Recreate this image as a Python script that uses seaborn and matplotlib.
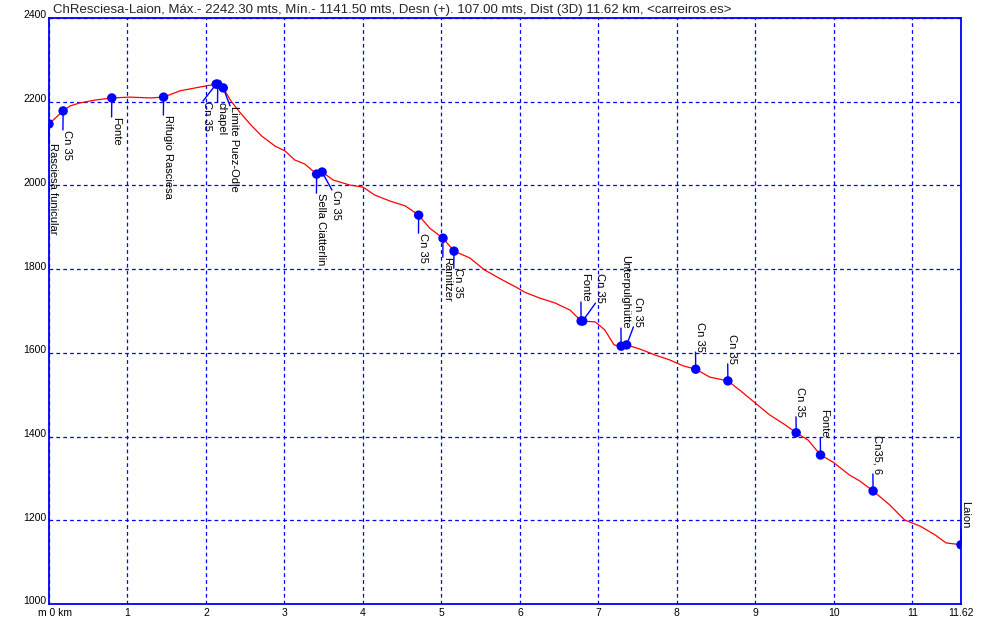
import numpy as np
import matplotlib
matplotlib.use("Agg")
import matplotlib.pyplot as plt
import matplotlib.transforms as mtransforms
import seaborn as sns

# elevation profile (km, m)
dist_km = [0.0, 0.18, 0.27, 0.39, 0.59, 0.80, 1.03, 1.29, 1.46, 1.67, 1.92, 2.13, 2.15, 2.22,
           2.31, 2.43, 2.56, 2.71, 2.88, 3.01, 3.13, 3.26, 3.41, 3.48, 3.62, 3.83, 4.0, 4.15,
           4.34, 4.54, 4.71, 4.85, 5.02, 5.16, 5.36, 5.55, 5.75, 5.97, 6.06, 6.25, 6.45, 6.64,
           6.78, 6.96, 7.08, 7.20, 7.29, 7.36, 7.53, 7.72, 7.91, 8.08, 8.24, 8.42, 8.65, 8.80,
           9.0, 9.18, 9.38, 9.52, 9.67, 9.83, 9.99, 10.2, 10.33, 10.50, 10.71, 10.90, 11.10,
           11.29, 11.43, 11.62]
elev_m = [2147, 2178, 2190, 2197, 2204, 2209, 2211, 2209, 2211, 2226, 2235, 2242, 2242, 2233,
          2204, 2175, 2147, 2118, 2094, 2082, 2061, 2051, 2027, 2032, 2013, 2001, 1996, 1977,
          1963, 1951, 1929, 1898, 1874, 1843, 1827, 1798, 1777, 1755, 1745, 1731, 1719, 1702,
          1676, 1674, 1655, 1619, 1616, 1619, 1609, 1595, 1583, 1569, 1561, 1542, 1533, 1511,
          1480, 1452, 1428, 1409, 1392, 1356, 1339, 1308, 1294, 1270, 1237, 1201, 1186,
          1165, 1146, 1141.5]

# waypoints
wp_names = ["Rasciesa funicular", "Cn 35", "Fonte", "Rifugio Rasciesa", "Cn 35", "chapel",
            "Limite Puez-Odle", "Sella Ciatterlin", "Cn 35", "Cn 35", "Ramitzer", "Cn 35",
            "Fonte", "Cn 35", "Unterpulghütte", "Cn 35", "Cn 35", "Cn 35", "Cn 35", "Fonte",
            "Cn35, 6", "Laion"]
wp_km = [0.0, 0.18, 0.80, 1.46, 2.13, 2.15, 2.22, 3.41, 3.48, 4.71, 5.02, 5.16,
         6.78, 6.80, 7.29, 7.36, 8.24, 8.65, 9.52, 9.83, 10.50, 11.62]
wp_m = [2147, 2178, 2209, 2211, 2242, 2242, 2233, 2027, 2032, 1929, 1874, 1843,
        1676, 1676, 1616, 1619, 1561, 1533, 1409, 1356, 1270, 1141.5]

# label offsets in pixels (layout only)
wp_offsets = [(0, -19), (0, -19), (0, -19), (0, -18), (-13, -17), (0, -18), (7, -18),
              (0, -19), (10, -18), (0, -18), (0, -19), (0, -17),
              (0, 19), (13, 18), (0, 18), (7, 18), (0, 17), (0, 17), (0, 16), (0, 17),
              (0, 17), (0, 16)]

y_ticks = [1000, 1200, 1400, 1600, 1800, 2000, 2200, 2400]
x_ticks = [0, 1, 2, 3, 4, 5, 6, 7, 8, 9, 10, 11, 11.62]
x_labels = ["m 0 km", "1", "2", "3", "4", "5", "6", "7", "8", "9", "10", "11", "11.62"]

title = ("ChResciesa-Laion, Máx.- 2242.30 mts, Mín.- 1141.50 mts, Desn (+). 107.00 mts, "
         "Dist (3D) 11.62 km, <carreiros.es>")

sns.set_style("white")
plt.rcParams["font.family"] = ["Liberation Sans", "DejaVu Sans"]

fig = plt.figure(figsize=(9.85, 6.35), dpi=100)
ax = fig.add_axes([49 / 985, 31 / 635, 912 / 985, 586 / 635])

sns.lineplot(x=dist_km, y=elev_m, color="#ff0000", linewidth=0.9,
             estimator=None, sort=False, ax=ax, zorder=3)
sns.scatterplot(x=wp_km, y=wp_m, color="#0000ff", s=46, edgecolor="none",
                zorder=5, ax=ax)

for name, xk, ym, (dx, dy) in zip(wp_names, wp_km, wp_m, wp_offsets):
    below = dy < 0
    ax.annotate(name, xy=(xk, ym), xytext=(dx - 1, dy), textcoords="offset pixels",
                rotation=270, ha="left", va="top" if below else "bottom",
                fontsize=8, color="black", zorder=6,
                arrowprops=dict(arrowstyle="-", color="#0000ff", lw=1.0,
                                shrinkA=0, shrinkB=0, patchA=None,
                                relpos=(0.08, 1) if below else (0.08, 0)))

ax.set_xlim(0, 11.62)
ax.set_ylim(1000, 2400)
ax.set_xticks(x_ticks)
ax.set_xticklabels(x_labels)
ax.set_yticks(y_ticks)
ax.tick_params(length=0, labelsize=7.5, colors="black")
ax.tick_params(axis="x", pad=3)
ax.tick_params(axis="y", pad=2)
ax.grid(True, color="#0000ff", linestyle=(0, (3, 2.5)), linewidth=0.9)
for s in ax.spines.values():
    s.set_color("#0000ff")
    s.set_linewidth(1.3)
    s.set_visible(True)
ax.set_xlabel("")
ax.set_ylabel("")

# nudge y labels up a bit, and the first x label right
up = mtransforms.ScaledTranslation(0, 0.035, fig.dpi_scale_trans)
for lab in ax.get_yticklabels():
    lab.set_transform(lab.get_transform() + up)
first = ax.get_xticklabels()[0]
first.set_transform(first.get_transform()
                    + mtransforms.ScaledTranslation(0.06, 0, fig.dpi_scale_trans))

fig.text(53 / 985, 1 - 10 / 635, title, va="center", ha="left", fontsize=9.5)

fig.savefig("out.png", dpi=100)
